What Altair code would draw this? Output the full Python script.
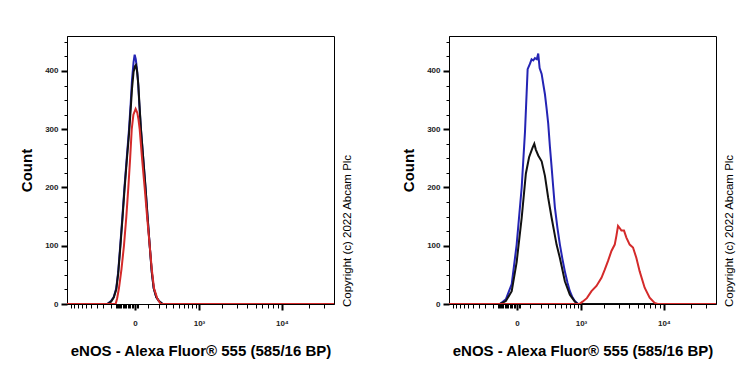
import altair as alt
import pandas as pd

# ---------------- data (fluorescence value, count) ----------------
X_MIN, X_MAX = -1132, 38360
SYMLOG_C = 244

# Left panel
L_BLUE_X = [X_MIN, -250, -205, -175, -149, -130, -111, -92, -75, -57, -40, -28, -19, -9, -2,
            5, 12, 19, 28, 40, 57, 75, 92, 111, 130, 149, 175, 205, 250, X_MAX]
L_BLUE_Y = [0, 0, 5, 12, 27, 55, 100, 150, 200, 250, 300, 345, 385, 415, 428,
            420, 405, 385, 345, 300, 250, 200, 150, 100, 55, 27, 12, 5, 0, 0]
L_BLACK_X = [X_MIN, -250, -205, -175, -149, -130, -111, -92, -75, -57, -40, -28, -19, -9, 0,
             6, 14, 22, 30, 40, 57, 75, 92, 111, 130, 149, 175, 205, 250, X_MAX]
L_BLACK_Y = [0, 0, 4, 11, 25, 52, 96, 145, 195, 245, 292, 335, 370, 398, 408,
             410, 398, 375, 340, 300, 250, 200, 150, 100, 55, 27, 12, 5, 0, 0]
L_RED_X = [X_MIN, -155, -140, -123, -100, -79, -60, -45, -32, -21, -10, 4, 15, 22, 31,
           48, 68, 88, 111, 130, 152, 185, 225, X_MAX]
L_RED_Y = [0, 0, 10, 27, 60, 100, 150, 200, 250, 300, 325, 335, 328, 318, 300,
           250, 200, 150, 100, 60, 27, 10, 0, 0]

# Right panel
R_BLUE_X = [X_MIN, -132, -80, -35, -2, 31, 55, 76, 95, 110, 125, 141, 160, 175, 190, 213, 235,
            253, 275, 296, 320, 345, 370, 396, 440, 483, 530, 581, 640, 693, 760, 819, 912, X_MAX]
R_BLUE_Y = [0, 0, 8, 34, 102, 200, 295, 403, 412, 420, 418, 422, 420, 430, 405, 395, 375,
            360, 335, 310, 270, 235, 200, 166, 130, 102, 78, 56, 36, 22, 11, 5, 0, 0]
R_BLACK_X = [X_MIN, -132, -80, -35, -2, 31, 62, 88, 118, 135, 150, 175, 213, 253, 296, 345,
             424, 483, 581, 693, 819, 900, X_MAX]
R_BLACK_Y = [0, 0, 5, 22, 72, 148, 224, 252, 268, 275, 265, 255, 245, 220, 182, 148,
             102, 79, 39, 16, 4, 0, 0]
R_RED_X = [X_MIN, 950, 1050, 1200, 1381, 1600, 1850, 2033, 2232, 2455, 2691, 2818, 2948, 3100,
           3235, 3472, 3704, 4050, 4428, 4848, 5293, 6041, 6893, 7857, 8500, X_MAX]
R_RED_Y = [0, 0, 4, 10, 22, 31, 45, 59, 74, 91, 102, 117, 134, 130,
           126, 126, 114, 102, 97, 79, 56, 28, 11, 2, 0, 0]

# Axis ticks
X_TICKS = ([-1000, -900, -800, -700, -600, -500, -400, -300, -200]
           + list(range(-150, 0, 10)) + [0, 10, 20]
           + [100, 200, 300, 400, 500, 600, 700, 800, 900, 1000]
           + [2000, 3000, 4000, 5000, 6000, 7000, 8000, 9000, 10000]
           + [20000, 30000])
Y_TICKS = list(range(0, 451, 25))

X_TITLE = "eNOS - Alexa Fluor® 555 (585/16 BP)"
Y_TITLE = "Count"
COPYRIGHT = "Copyright (c) 2022 Abcam Plc"

COLORS = {"blue": "#2424b4", "black": "#111111", "red": "#d42a2a"}
FONT = "Liberation Sans"
W, H = 267, 268

X_MAJOR = "datum.value == 0 || datum.value == 1000 || datum.value == 10000"

X_AXIS = alt.Axis(
    values=X_TICKS, title=X_TITLE, grid=False,
    labelExpr="datum.value == 0 ? '0' : datum.value == 1000 ? '10³' : datum.value == 10000 ? '10⁴' : ''",
    labelOverlap=False, labelFlush=False, labelFontSize=8, labelFont=FONT,
    labelFontWeight="bold", labelColor="#222", labelPadding=9,
    tickSize={"condition": {"test": X_MAJOR, "value": 6}, "value": 4},
    tickWidth={"condition": {"test": X_MAJOR, "value": 2}, "value": 1},
    tickColor="black", domainColor="black",
    titleFont=FONT, titleFontSize=15, titleFontWeight="bold", titleColor="black", titlePadding=16,
)
Y_AXIS = alt.Axis(
    values=Y_TICKS, title=Y_TITLE, grid=False,
    labelExpr="datum.value % 100 == 0 ? datum.label : ''",
    labelOverlap=False, labelFontSize=8, labelFont=FONT, labelFontWeight="bold",
    labelColor="#222", labelPadding=3,
    tickSize={"condition": {"test": "datum.value % 100 == 0", "value": 6}, "value": 3},
    tickWidth={"condition": {"test": "datum.value % 100 == 0", "value": 2}, "value": 1},
    tickColor="black", domainColor="black",
    titleFont=FONT, titleFontSize=15, titleFontWeight="bold", titleColor="black", titlePadding=10,
)
X_SCALE = alt.Scale(type="symlog", constant=SYMLOG_C, domain=[X_MIN, X_MAX], nice=False)
Y_SCALE = alt.Scale(domain=[0, 460], nice=False)


def line(xs, ys, color):
    df = pd.DataFrame({"x": xs, "y": ys})
    return alt.Chart(df).mark_line(color=color, strokeWidth=2, clip=True).encode(
        x=alt.X("x:Q", scale=X_SCALE, axis=X_AXIS),
        y=alt.Y("y:Q", scale=Y_SCALE, axis=Y_AXIS),
    )


def panel(blue, black, red):
    cp = alt.Chart(pd.DataFrame({"t": [COPYRIGHT]})).mark_text(
        angle=270, align="left", baseline="middle", fontSize=11.5, font=FONT, color="black"
    ).encode(x=alt.value(W + 14), y=alt.value(H + 3), text="t:N")
    return alt.layer(
        line(*blue, COLORS["blue"]),
        line(*black, COLORS["black"]),
        line(*red, COLORS["red"]),
        cp,
    ).properties(width=W, height=H)


left = panel((L_BLUE_X, L_BLUE_Y), (L_BLACK_X, L_BLACK_Y), (L_RED_X, L_RED_Y))
right = panel((R_BLUE_X, R_BLUE_Y), (R_BLACK_X, R_BLACK_Y), (R_RED_X, R_RED_Y))

chart = alt.hconcat(left, right, spacing=47).properties(
    padding={"left": 11, "top": 27, "right": 5, "bottom": 5},
    background="white",
).configure_view(stroke="black", strokeWidth=1)

chart.save("out.html", embed_options={"renderer": "svg", "actions": False})
